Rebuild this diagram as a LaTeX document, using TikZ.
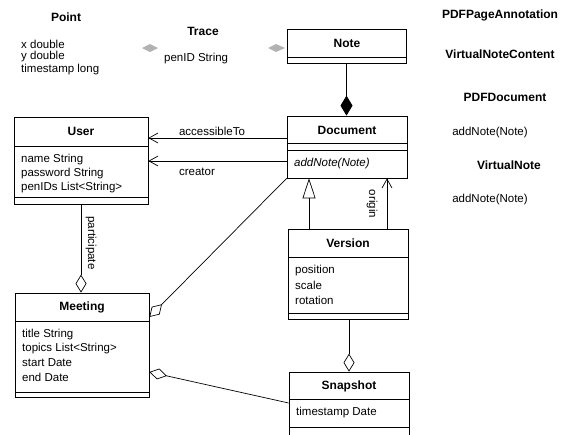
\documentclass[tikz,border=0pt]{standalone}
\usepackage{fontspec}
\setmainfont{Liberation Sans}
\usetikzlibrary{arrows.meta}
\begin{document}
\begin{tikzpicture}[x=1pt,y=-1pt,
  box/.style={draw, line width=0.7pt, inner sep=0pt, rectangle},
  ttl/.style={font=\fontsize{12}{14}\selectfont\bfseries, inner sep=0pt},
  attr/.style={font=\fontsize{11.5}{14}\selectfont, anchor=west, inner sep=0pt},
  lbl/.style={font=\fontsize{11.5}{14}\selectfont, inner sep=0pt},
  conn/.style={line width=0.7pt},
  sepline/.style={line width=0.7pt},
  odia/.style={-{Diamond[open,length=18pt,width=11pt]}},
  fdia/.style={-{Diamond[length=20pt,width=12pt]}},
  nav/.style={-{Straight Barb[length=9pt,width=10pt]}},
  gen/.style={-{Triangle[open,length=20pt,width=13pt]}},
]
\useasboundingbox (0,0) rectangle (575,434);
\clip (0,0) rectangle (575,434);

% ---- Point / Trace (no boxes) ----
\node[ttl] (pointT) at (66,17) {Point};
\node[attr] (px) at (21,44) {x double};
\node[attr] (py) at (21,57) {y double};
\node[attr] (pts) at (21,70) {timestamp long};
\fill[gray!60] (142,48) -- (150,44) -- (158,48) -- (150,52) -- cycle;
\node[ttl] (traceT) at (203,31) {Trace};
\node[attr] (tpen) at (164,59) {penID String};
\fill[gray!60] (268,48) -- (276,44) -- (285,48) -- (276,52) -- cycle;

% ---- Note ----
\node[box, minimum width=119pt, minimum height=34pt] (note) at (346.5,46) {};
\node[ttl] (noteT) at (347,43) {Note};
\draw[sepline] (287,57) -- (406,57);

% ---- Document ----
\node[box, minimum width=120pt, minimum height=62pt] (doc) at (347,147) {};
\node[ttl] (docT) at (347,130) {Document};
\draw[sepline] (287,143) -- (407,143);
\draw[sepline] (287,150) -- (407,150);
\node[attr, font=\fontsize{11.5}{14}\selectfont\itshape] (docop) at (294,164) {addNote(Note)};

% ---- User ----
\node[box, minimum width=134pt, minimum height=87pt] (user) at (81,160.5) {};
\node[ttl] (userT) at (81,131) {User};
\draw[sepline] (14,146) -- (148,146);
\node[attr] (u1) at (21,160) {name String};
\node[attr] (u2) at (21,174) {password String};
\node[attr] (u3) at (21,188) {penIDs List<String>};
\draw[sepline] (14,197) -- (148,197);

% ---- Version ----
\node[box, minimum width=120pt, minimum height=90pt] (ver) at (348,274) {};
\node[ttl] (verT) at (348,243) {Version};
\draw[sepline] (288,257) -- (408,257);
\node[attr] (v1) at (295,271) {position};
\node[attr] (v2) at (295,285.5) {scale};
\node[attr] (v3) at (295,300) {rotation};
\draw[sepline] (288,313) -- (408,313);

% ---- Meeting ----
\node[box, minimum width=134pt, minimum height=104pt] (meet) at (82,345) {};
\node[ttl] (meetT) at (82,307) {Meeting};
\draw[sepline] (15,321) -- (149,321);
\node[attr] (m1) at (22,335) {title String};
\node[attr] (m2) at (22,349) {topics List<String>};
\node[attr] (m3) at (22,363) {start Date};
\node[attr] (m4) at (22,377.5) {end Date};
\draw[sepline] (15,392) -- (149,392);

% ---- Snapshot ----
\node[box, minimum width=120pt, minimum height=73pt] (snap) at (349,408.5) {};
\node[ttl] (snapT) at (349,386) {Snapshot};
\draw[sepline] (289,399) -- (409,399);
\node[attr] (s1) at (296,413) {timestamp Date};
\draw[sepline] (289,427) -- (409,427);

% ---- right-side texts ----
\node[ttl] (r1) at (500,15) {PDFPageAnnotation};
\node[ttl] (r2) at (500,54) {VirtualNoteContent};
\node[ttl] (r3) at (505,97) {PDFDocument};
\node[lbl] (r4) at (490,133) {addNote(Note)};
\node[ttl] (r5) at (509,165) {VirtualNote};
\node[lbl] (r6) at (490,200) {addNote(Note)};

% ---- connectors ----
\draw[conn, fdia] (note.south) -- (note.south |- doc.north);
\draw[conn, nav] (doc.west |- 0,138) -- (user.east |- 0,138);
\node[lbl] (accL) at (212,131) {accessibleTo};
\draw[conn, nav] (doc.west |- 0,161) -- (user.east |- 0,161);
\node[lbl] (creL) at (197,172) {creator};
\draw[conn, odia] (user.south) -- (user.south |- meet.north);
\node[lbl, rotate=-90] (partL) at (91,243) {participate};
\draw[conn, odia] (doc.south west) -- (meet.east |- 0,317);
\draw[conn, odia] (snap.west |- 0,403) -- (meet.east |- 0,372);
\draw[conn, odia] (ver.south -| 349,0) -- (snap.north -| 349,0);
\draw[conn, gen] (ver.north -| 309,0) -- (doc.south -| 309,0);
\draw[conn, nav] (ver.north -| 387,0) -- (doc.south -| 387,0);
\node[lbl, rotate=-90] (origL) at (372,204) {origin};
\end{tikzpicture}
\end{document}
